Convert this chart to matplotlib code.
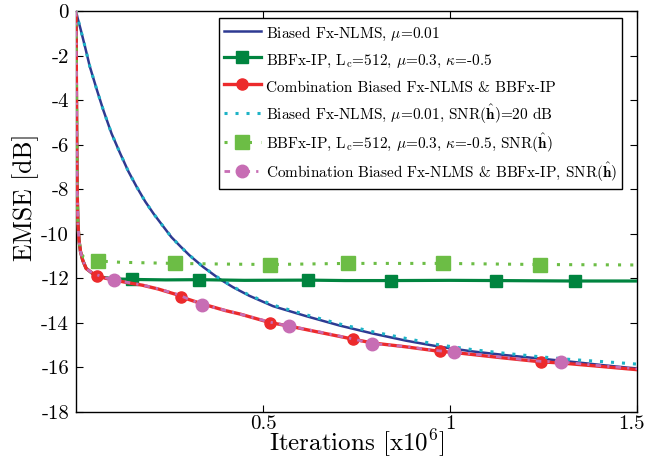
import numpy as np
import matplotlib
matplotlib.use('Agg')
import matplotlib.pyplot as plt
from matplotlib.transforms import ScaledTranslation

plt.rcParams['font.family'] = ['cmr10', 'DejaVu Serif']
plt.rcParams['mathtext.fontset'] = 'cm'
plt.rcParams['axes.unicode_minus'] = False

# ---------------- data ----------------
# Biased Fx-NLMS, mu=0.01
blue_x = [0, 0.004, 0.012, 0.024, 0.037, 0.055, 0.073, 0.095, 0.118, 0.14, 0.162, 0.185,
          0.207, 0.23, 0.255, 0.28, 0.303, 0.34, 0.383, 0.42, 0.463, 0.527, 0.616, 0.705,
          0.794, 0.883, 0.972, 1.06, 1.15, 1.24, 1.328, 1.41, 1.5]
blue_y = [0, -0.3, -0.8, -1.6, -2.5, -3.5, -4.45, -5.5, -6.39, -7.2, -7.89, -8.55,
          -9.09, -9.6, -10.15, -10.58, -10.96, -11.49, -12.02, -12.4, -12.78, -13.25, -13.7, -14.12,
          -14.48, -14.8, -15.07, -15.28, -15.45, -15.6, -15.75, -15.9, -16.05]

# Biased Fx-NLMS, SNR(h)=20 dB
cyan_x = [0, 0.004, 0.012, 0.024, 0.037, 0.055, 0.073, 0.095, 0.118, 0.14, 0.162, 0.185,
          0.207, 0.23, 0.255, 0.28, 0.303, 0.34, 0.383, 0.42, 0.463, 0.527, 0.616, 0.705,
          0.794, 0.883, 0.972, 1.06, 1.15, 1.24, 1.328, 1.41, 1.5]
cyan_y = [0, -0.3, -0.8, -1.6, -2.5, -3.5, -4.45, -5.5, -6.39, -7.2, -7.89, -8.55,
          -9.09, -9.6, -10.15, -10.58, -10.96, -11.49, -12.0, -12.38, -12.75, -13.2, -13.64, -14.05,
          -14.4, -14.7, -14.99, -15.2, -15.37, -15.52, -15.65, -15.74, -15.85]

# BBFx-IP, Lc=512, mu=0.3, kappa=-0.5
dgreen_x = [0, 0.001, 0.002, 0.003, 0.005, 0.008, 0.012, 0.018, 0.027, 0.045, 0.07, 0.1,
            0.151, 0.24, 0.328, 0.45, 0.62, 0.72, 0.843, 1.0, 1.124, 1.22, 1.335, 1.5]
dgreen_y = [0, -3, -6, -8, -9.5, -10.3, -10.8, -11.2, -11.55, -11.8, -11.95, -12.02,
            -12.05, -12.07, -12.06, -12.09, -12.08, -12.1, -12.1, -12.09, -12.1, -12.11, -12.12, -12.12]
dgreen_mx = [0.151, 0.328, 0.62, 0.843, 1.124, 1.335]

# BBFx-IP, SNR(h)
lgreen_x = [0, 0.001, 0.002, 0.003, 0.005, 0.008, 0.012, 0.02, 0.035, 0.058, 0.12, 0.265,
            0.4, 0.519, 0.726, 0.98, 1.24, 1.5]
lgreen_y = [0, -3, -6, -8, -9.5, -10.3, -10.8, -11.05, -11.15, -11.22, -11.28, -11.33,
            -11.36, -11.38, -11.33, -11.33, -11.38, -11.4]
lgreen_mx = [0.058, 0.265, 0.519, 0.726, 0.98, 1.24]

# Combination Biased Fx-NLMS & BBFx-IP
red_x = [0, 0.001, 0.002, 0.003, 0.005, 0.008, 0.012, 0.018, 0.027, 0.045, 0.055, 0.08,
         0.102, 0.14, 0.178, 0.22, 0.267, 0.28, 0.338, 0.4, 0.438, 0.52, 0.569, 0.65,
         0.741, 0.792, 0.88, 0.974, 1.012, 1.13, 1.244, 1.297, 1.4, 1.5]
red_y = [0, -3, -6, -8, -9.5, -10.3, -10.8, -11.19, -11.56, -11.78, -11.89, -12.0,
         -12.08, -12.2, -12.31, -12.48, -12.72, -12.83, -13.15, -13.45, -13.6, -13.99, -14.14, -14.42,
         -14.73, -14.9, -15.07, -15.28, -15.33, -15.55, -15.75, -15.8, -15.95, -16.1]
red_mx = [0.055, 0.28, 0.52, 0.741, 0.974, 1.244]

# Combination, SNR(h)
purple_x = [0, 0.001, 0.002, 0.003, 0.005, 0.008, 0.012, 0.018, 0.027, 0.045, 0.08, 0.102,
            0.14, 0.178, 0.22, 0.267, 0.338, 0.4, 0.438, 0.52, 0.569, 0.65, 0.741, 0.792,
            0.88, 0.974, 1.012, 1.13, 1.244, 1.297, 1.4, 1.5]
purple_y = [0, -3, -6, -8, -9.5, -10.3, -10.8, -11.19, -11.56, -11.78, -11.98, -12.08,
            -12.19, -12.3, -12.47, -12.7, -13.18, -13.44, -13.6, -13.97, -14.14, -14.4, -14.72, -14.93,
            -15.06, -15.26, -15.3, -15.53, -15.73, -15.75, -15.92, -16.06]
purple_mx = [0.102, 0.338, 0.569, 0.792, 1.012, 1.297]

labels = [
    r'Biased Fx-NLMS, $\mu$=0.01',
    r'BBFx-IP, L$_{\rm c}$=512, $\mu$=0.3, $\kappa$=-0.5',
    r'Combination Biased Fx-NLMS & BBFx-IP',
    r'Biased Fx-NLMS, $\mu$=0.01, SNR($\hat{\mathbf{h}}$)=20 dB',
    r'BBFx-IP, L$_{\rm c}$=512, $\mu$=0.3, $\kappa$=-0.5, SNR($\hat{\mathbf{h}}$)',
    r'Combination Biased Fx-NLMS & BBFx-IP, SNR($\hat{\mathbf{h}}$)',
]
yticks = [0, -2, -4, -6, -8, -10, -12, -14, -16, -18]
xticks = [0.5, 1, 1.5]
xtick_labels = ['0.5', '1', '1.5']

# ---------------- styles ----------------
c_blue = '#2E3A92'
c_dgreen = '#00843F'
c_red = '#EC2A2C'
c_cyan = '#1DB3C6'
c_lgreen = '#6CBD45'
c_purple = '#C76DB4'


def with_markers(xs, ys, mxs):
    # marker positions are placed on the curve drawn through the read points
    pts = dict(zip(xs, ys))
    allx = sorted(set(xs) | set(mxs))
    ally = [pts[v] if v in pts else float(np.interp(v, xs, ys)) for v in allx]
    return allx, ally, [allx.index(m) for m in mxs]


fig = plt.figure(figsize=(6.47, 4.61), dpi=100)
ax = fig.add_axes([0.1175, 0.1063, 0.867, 0.8698])

ax.plot(blue_x, blue_y, color=c_blue, lw=1.8, label=labels[0], zorder=3)

gx, gy, gi = with_markers(dgreen_x, dgreen_y, dgreen_mx)
ax.plot(gx, gy, color=c_dgreen, lw=2.3, marker='s', ms=8, markevery=gi,
        label=labels[1], zorder=3)

rx, ry, ri = with_markers(red_x, red_y, red_mx)
ax.plot(rx, ry, color=c_red, lw=2.4, marker='o', ms=8, markevery=ri,
        label=labels[2], zorder=3)

ax.plot(cyan_x, cyan_y, color=c_cyan, lw=2.2, linestyle=(0, (1.0, 2.6)),
        dash_capstyle='butt', label=labels[3], zorder=4)

lx, ly, li = with_markers(lgreen_x, lgreen_y, lgreen_mx)
ax.plot(lx, ly, color=c_lgreen, lw=2.2, linestyle=(0, (1.0, 3.0)), marker='s', ms=10,
        markevery=li, dash_capstyle='butt', label=labels[4], zorder=4)

px, py, pi = with_markers(purple_x, purple_y, purple_mx)
ax.plot(px, py, color=c_purple, lw=2.0, linestyle=(0, (2.0, 2.2, 0.8, 2.2)), marker='o', ms=9,
        markevery=pi, dash_capstyle='butt', label=labels[5], zorder=5)

ax.set_xlim(0, 1.5)
ax.set_ylim(-18, 0)
ax.set_yticks(yticks)
ax.set_yticklabels([str(v) for v in yticks])
ax.set_xticks(xticks)
ax.set_xticklabels(xtick_labels)
ax.tick_params(direction='in', top=True, right=True, length=5, width=0.8,
               labelsize=15)
ax.tick_params(axis='x', pad=2)
ax.tick_params(axis='y', pad=5)
for s in ax.spines.values():
    s.set_linewidth(1.0)

# keep the last x tick label inside the figure, as in the reference
last = ax.get_xticklabels()[-1]
last.set_transform(last.get_transform() + ScaledTranslation(-0.06, 0, fig.dpi_scale_trans))

ax.set_xlabel(r'Iterations [x10$^6$]', fontsize=18, labelpad=-3.5)
ax.set_ylabel('EMSE [dB]', fontsize=18.5)
ax.yaxis.set_label_coords(-0.066, 0.535)

leg = ax.legend(loc='upper right', bbox_to_anchor=(0.973, 0.982), fontsize=11,
                frameon=True, fancybox=False, framealpha=1, edgecolor='black',
                handlelength=2.4, handleheight=1.75, handletextpad=0.35, borderpad=0.3,
                labelspacing=0.37, numpoints=1, borderaxespad=0)
leg.get_frame().set_linewidth(1.0)

fig.savefig('out.png', dpi=100)
